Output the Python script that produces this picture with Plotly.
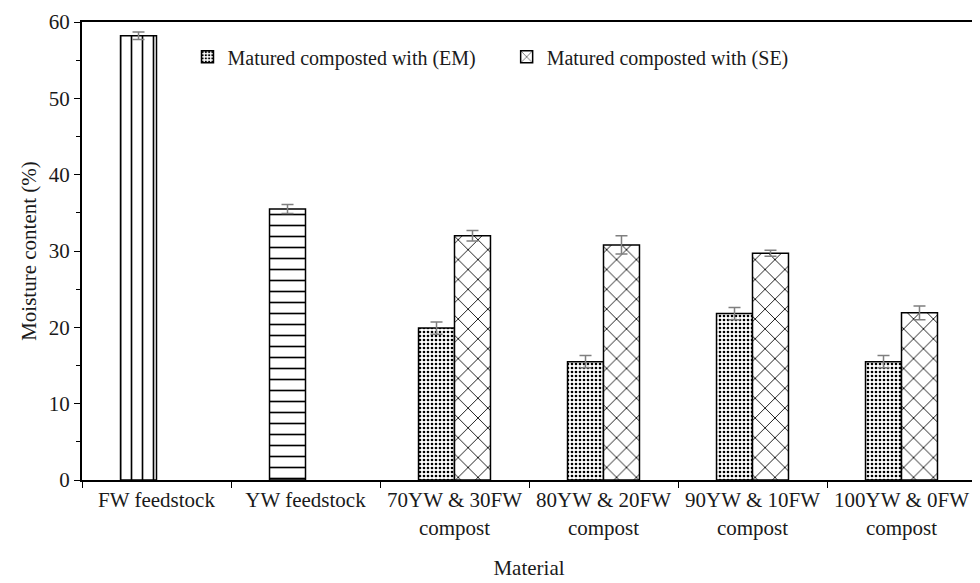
import plotly.graph_objects as go

categories = ["FW feedstock", "YW feedstock", "70YW & 30FW<br>compost", "80YW & 20FW<br>compost",
              "90YW & 10FW<br>compost", "100YW & 0FW<br>compost"]
fw_value = [58.2]
fw_err = [0.5]
yw_value = [35.5]
yw_err = [0.6]
em_values = [19.9, 15.5, 21.8, 15.5]
em_err = [0.8, 0.8, 0.8, 0.8]
se_values = [32.0, 30.8, 29.7, 21.9]
se_err = [0.7, 1.2, 0.4, 0.9]
em_name = "Matured composted with (EM)"
se_name = "Matured composted with (SE)"

FONT = "'Liberation Serif', 'Times New Roman', 'DejaVu Serif', serif"
TXT = "#1a1a1a"
ERR = dict(type="data", visible=True, color="#7f7f7f", thickness=1.5, width=6)


def bar(x, y, err, shape, size, solidity, name, show, legend="legend", og="a"):
    return go.Bar(
        x=x, y=y, name=name, showlegend=show, legend=legend, offsetgroup=og,
        error_y=dict(array=err, **ERR),
        marker=dict(color="white", line=dict(color="black", width=1.5),
                    pattern=dict(shape=shape, size=size, solidity=solidity,
                                 fgcolor="black", bgcolor="white", fillmode="replace")),
    )


fig = go.Figure()
fig.add_trace(bar([categories[0]], fw_value, fw_err, "|", 11, 0.15, "FW", False))
fig.add_trace(bar([categories[1]], yw_value, yw_err, "-", 11, 0.15, "YW", False))
fig.add_trace(bar(categories[2:], em_values, em_err, ".", 4, 0.35, em_name, True, "legend", "a"))
fig.add_trace(bar(categories[2:], se_values, se_err, "x", 14, 0.12, se_name, True, "legend2", "b"))

fig.update_layout(
    width=972, height=575,
    margin=dict(l=74, r=2, t=12, b=103),
    paper_bgcolor="white", plot_bgcolor="white",
    barmode="group", bargap=0.517, bargroupgap=0,
    font=dict(family=FONT, size=21, color=TXT),
    legend=dict(x=0.118, y=0.924, xanchor="left", yanchor="middle", orientation="h",
                bgcolor="rgba(0,0,0,0)", font=dict(family=FONT, size=20, color=TXT)),
    legend2=dict(x=0.475, y=0.924, xanchor="left", yanchor="middle", orientation="h",
                 bgcolor="rgba(0,0,0,0)", font=dict(family=FONT, size=20, color=TXT)),
    xaxis=dict(
        type="category", categoryorder="array", categoryarray=categories,
        showline=True, linecolor="black", linewidth=2, mirror=True,
        ticks="outside", tickson="boundaries", ticklen=6, tickcolor="black",
        showgrid=False,
        title=dict(text="Material", font=dict(family=FONT, size=21, color=TXT), standoff=22),
        tickfont=dict(family=FONT, size=21, color=TXT),
    ),
    yaxis=dict(
        range=[0, 60], dtick=10, showline=True, linecolor="black", linewidth=2, mirror=True,
        ticks="outside", ticklen=6, tickcolor="black", showgrid=False, zeroline=False,
        minor=dict(dtick=5, ticks="outside", ticklen=4, tickcolor="black", showgrid=False),
        title=dict(text="Moisture content (%)", font=dict(family=FONT, size=21, color=TXT), standoff=6),
        tickfont=dict(family=FONT, size=21, color=TXT),
    ),
)

fig.write_html("out.html")
